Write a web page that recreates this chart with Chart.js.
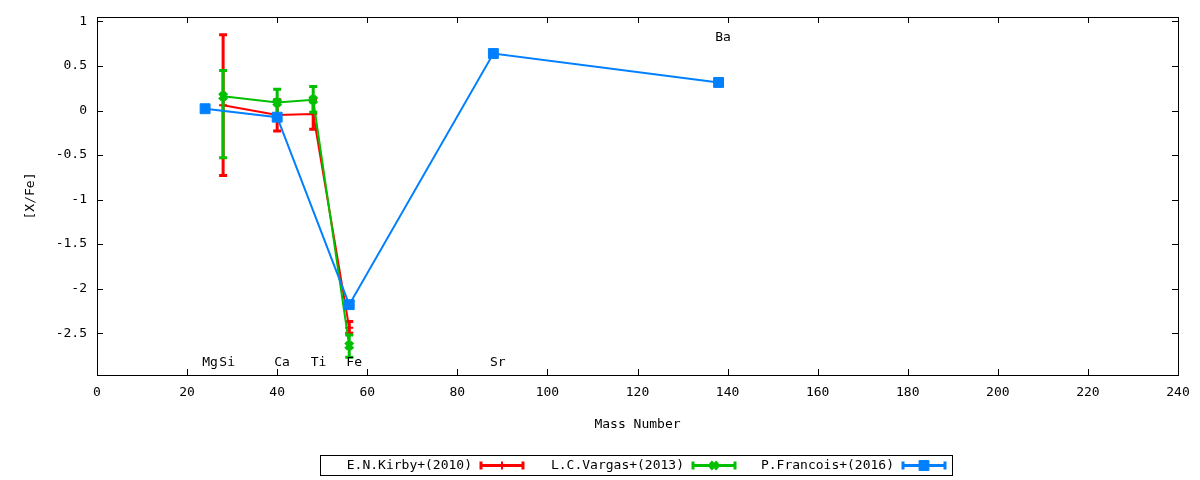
<!DOCTYPE html>
<html lang="en">
<head>
<meta charset="UTF-8">
<title>[X/Fe] vs Mass Number</title>
<script src="https://cdn.jsdelivr.net/npm/chart.js"></script>
<style>
  body { margin: 0; background: #fff; }
  canvas { display: block; }
</style>
</head>
<body>
<canvas id="grafico" width="1200" height="480"></canvas>
<script>
// series
const seriesNames = ['E.N.Kirby+(2010)', 'L.C.Vargas+(2013)', 'P.Francois+(2016)'];
const seriesColors = ['#ff0000', '#00c000', '#0080ff'];

const kirbyMass = [28, 40, 48, 56];
const kirbyVal  = [0.06, -0.05, -0.04, -2.44];
const kirbyLow  = [-0.73, -0.23, -0.21, -2.50];
const kirbyHigh = [0.85, 0.12, 0.13, -2.37];

const vargasMass = [28, 40, 48, 56];
const vargasVal  = [0.16, 0.09, 0.12, -2.64];
const vargasLow  = [-0.53, -0.06, -0.02, -2.77];
const vargasHigh = [0.45, 0.24, 0.27, -2.52];

const francoisMass = [24, 40, 56, 88, 138];
const francoisVal  = [0.02, -0.075, -2.18, 0.64, 0.315];

// element labels (data coords)
const elemNames = ['Mg', 'Si', 'Ca', 'Ti', 'Fe', 'Sr', 'Ba'];
const elemMass  = [25.1, 28.9, 41.1, 49.2, 57.1, 89.0, 139.0];
const elemVal   = [-2.83, -2.83, -2.83, -2.83, -2.83, -2.83, 0.82];

const xTicks = [0, 20, 40, 60, 80, 100, 120, 140, 160, 180, 200, 220, 240];
const yTicks = [-2.5, -2, -1.5, -1, -0.5, 0, 0.5, 1];

const FONT = "13px 'DejaVu Sans Mono'";

function pts(xs, ys) {
    return xs.map((x, i) => ({ x: x, y: ys[i] }));
}

const errBars = [
    { mass: kirbyMass, low: kirbyLow, high: kirbyHigh },
    { mass: vargasMass, low: vargasLow, high: vargasHigh },
    null
];

function drawCapBar(ctx, x, y1, y2, color) {
    ctx.strokeStyle = color;
    ctx.lineWidth = 3;
    ctx.beginPath();
    ctx.moveTo(x, y1); ctx.lineTo(x, y2);
    ctx.moveTo(x - 4, y1); ctx.lineTo(x + 4, y1);
    ctx.moveTo(x - 4, y2); ctx.lineTo(x + 4, y2);
    ctx.stroke();
}

// error bars, under the markers
const errorBarPlugin = {
    id: 'errorBars',
    beforeDatasetDraw(chart, args) {
        const e = errBars[args.index];
        if (!e) return;
        const ctx = chart.ctx, xs = chart.scales.x, ys = chart.scales.y;
        ctx.save();
        e.mass.forEach((m, i) => {
            drawCapBar(ctx, xs.getPixelForValue(m), ys.getPixelForValue(e.low[i]),
                ys.getPixelForValue(e.high[i]), seriesColors[args.index]);
        });
        ctx.restore();
    }
};

// frame, inward ticks, labels, legend
const framePlugin = {
    id: 'frame',
    afterDraw(chart) {
        const ctx = chart.ctx, a = chart.chartArea;
        const xs = chart.scales.x, ys = chart.scales.y;
        ctx.save();
        ctx.strokeStyle = '#000';
        ctx.lineWidth = 1;
        ctx.beginPath();
        xTicks.forEach(v => {
            const px = Math.round(xs.getPixelForValue(v)) + 0.5;
            ctx.moveTo(px, a.bottom); ctx.lineTo(px, a.bottom - 6);
            ctx.moveTo(px, a.top); ctx.lineTo(px, a.top + 6);
        });
        yTicks.forEach(v => {
            const py = Math.round(ys.getPixelForValue(v)) + 0.5;
            ctx.moveTo(a.left, py); ctx.lineTo(a.left + 6, py);
            ctx.moveTo(a.right, py); ctx.lineTo(a.right - 6, py);
        });
        ctx.stroke();
        ctx.strokeRect(Math.round(a.left) + 0.5, Math.round(a.top) + 0.5,
            Math.round(a.right - a.left), Math.round(a.bottom - a.top));

        ctx.fillStyle = '#000';
        ctx.font = FONT;
        ctx.textAlign = 'center';
        ctx.textBaseline = 'middle';
        elemNames.forEach((n, i) => {
            ctx.fillText(n, xs.getPixelForValue(elemMass[i]), ys.getPixelForValue(elemVal[i]));
        });

        // axis titles
        ctx.fillText('Mass Number', (a.left + a.right) / 2, 425);
        ctx.save();
        ctx.translate(31, (a.top + a.bottom) / 2);
        ctx.rotate(-Math.PI / 2);
        ctx.fillText('[X/Fe]', 0, 0);
        ctx.restore();

        // legend
        const lx = 320, ly = 455, lw = 632, lh = 20;
        ctx.strokeRect(lx + 0.5, ly + 0.5, lw, lh);
        const cy = ly + lh / 2 + 0.5;
        const textRight = [472, 684, 894];
        ctx.textAlign = 'right';
        seriesNames.forEach((n, i) => {
            ctx.fillStyle = '#000';
            ctx.fillText(n, textRight[i], cy);
            const x1 = textRight[i] + 9, x2 = x1 + 42;
            const c = seriesColors[i];
            ctx.strokeStyle = c;
            ctx.lineWidth = 3;
            ctx.beginPath();
            ctx.moveTo(x1, cy); ctx.lineTo(x2, cy);
            ctx.moveTo(x1, cy - 4); ctx.lineTo(x1, cy + 4);
            ctx.moveTo(x2, cy - 4); ctx.lineTo(x2, cy + 4);
            ctx.stroke();
            const ds = chart.data.datasets[i];
            ctx.fillStyle = c;
            ctx.lineWidth = ds.pointBorderWidth;
            Chart.helpers.drawPoint(ctx, {
                pointStyle: ds.pointStyle, radius: ds.pointRadius,
                borderWidth: ds.pointBorderWidth, rotation: 0
            }, (x1 + x2) / 2, cy);
        });
        ctx.restore();
    }
};

const datasets = [
    { label: seriesNames[0], data: pts(kirbyMass, kirbyVal), pointStyle: 'cross', pointRadius: 4, pointBorderWidth: 2 },
    { label: seriesNames[1], data: pts(vargasMass, vargasVal), pointStyle: 'crossRot', pointRadius: 5, pointBorderWidth: 4 },
    { label: seriesNames[2], data: pts(francoisMass, francoisVal), pointStyle: 'rect', pointRadius: 7, pointBorderWidth: 1 }
].map((d, i) => Object.assign(d, {
    borderColor: seriesColors[i],
    backgroundColor: seriesColors[i],
    pointBackgroundColor: seriesColors[i],
    pointBorderColor: seriesColors[i],
    borderWidth: 2,
    fill: false,
    tension: 0,
    order: 3 - i
}));

new Chart(document.getElementById('grafico').getContext('2d'), {
    type: 'line',
    data: { datasets: datasets },
    options: {
        responsive: false,
        animation: false,
        devicePixelRatio: 1,
        layout: { padding: { top: 17, right: 22, left: 0, bottom: 0 } },
        plugins: { legend: { display: false }, tooltip: { enabled: false } },
        scales: {
            x: {
                type: 'linear', min: 0, max: 240,
                afterBuildTicks: s => { s.ticks = xTicks.map(v => ({ value: v })); },
                afterFit: s => { s.height = 105; },
                grid: { display: false },
                border: { display: false },
                ticks: { color: '#000', font: { family: 'DejaVu Sans Mono', size: 13 }, padding: 2, maxRotation: 0 }
            },
            y: {
                type: 'linear', min: -2.97, max: 1.05,
                afterBuildTicks: s => { s.ticks = yTicks.map(v => ({ value: v })); },
                afterFit: s => { s.width = 97; },
                grid: { display: false },
                border: { display: false },
                ticks: { color: '#000', font: { family: 'DejaVu Sans Mono', size: 13 }, padding: 2, callback: v => String(v) }
            }
        }
    },
    plugins: [errorBarPlugin, framePlugin]
});
</script>
</body>
</html>
